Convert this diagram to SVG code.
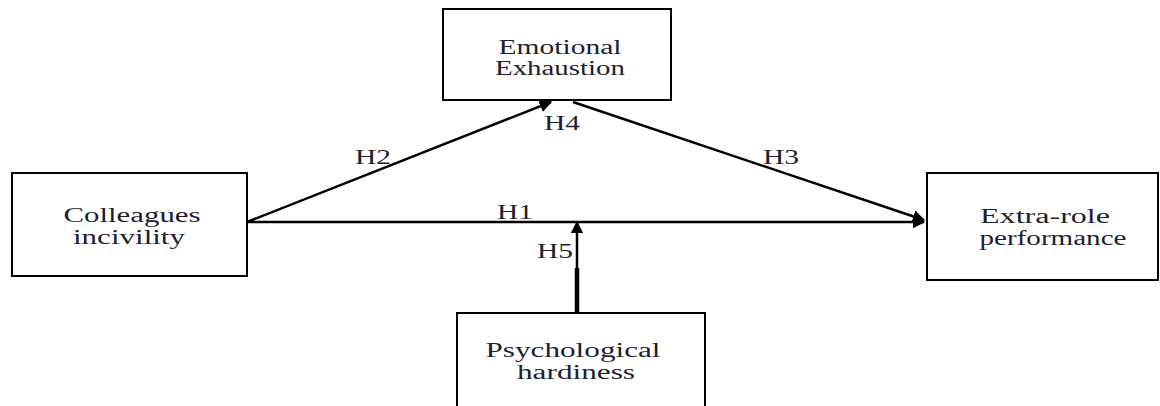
<svg xmlns="http://www.w3.org/2000/svg" width="1160" height="406" viewBox="0 0 1160 406">
<style>
.box{fill:#fff;stroke:#000;stroke-width:2}
.t{font-family:"Liberation Serif","Times New Roman",serif;font-size:20.5px;fill:#1e1e30;text-anchor:middle}
.c{stroke:#000;stroke-width:2.5;fill:none}
</style>
<defs>
<marker id="ah" viewBox="0 0 10 10" refX="9" refY="5" markerWidth="5" markerHeight="5" orient="auto" markerUnits="strokeWidth">
<path d="M0,0 L10,5 L0,10 z" fill="#000"/>
</marker>
</defs>
<rect width="1160" height="406" fill="#fff"/>
<g id="connectors">
<line class="c" x1="247" y1="222" x2="924" y2="222" marker-end="url(#ah)"/>
<line class="c" x1="247" y1="222" x2="551" y2="102" marker-end="url(#ah)"/>
<line class="c" x1="573" y1="102" x2="924" y2="220" marker-end="url(#ah)"/>
<line stroke="#000" stroke-width="4.5" x1="577" y1="313" x2="577" y2="268"/>
<line class="c" x1="577" y1="270" x2="577" y2="222" marker-end="url(#ah)"/>
<text class="t" x="515" y="219" textLength="36" lengthAdjust="spacingAndGlyphs">H1</text>
<text class="t" x="373" y="164" textLength="36" lengthAdjust="spacingAndGlyphs">H2</text>
<text class="t" x="781" y="164" textLength="36" lengthAdjust="spacingAndGlyphs">H3</text>
<text class="t" x="562" y="130" textLength="36" lengthAdjust="spacingAndGlyphs">H4</text>
<text class="t" x="555" y="258" textLength="36" lengthAdjust="spacingAndGlyphs">H5</text>
</g>
<g id="emotional">
<rect class="box" x="443" y="9" width="228" height="91"/>
<text class="t" x="560" y="54" textLength="123" lengthAdjust="spacingAndGlyphs">Emotional</text>
<text class="t" x="560" y="75" textLength="130" lengthAdjust="spacingAndGlyphs">Exhaustion</text>
</g>
<g id="colleagues">
<rect class="box" x="12" y="173" width="235" height="103"/>
<text class="t" x="132" y="222" textLength="137" lengthAdjust="spacingAndGlyphs">Colleagues</text>
<text class="t" x="129" y="244" textLength="112" lengthAdjust="spacingAndGlyphs">incivility</text>
</g>
<g id="extra">
<rect class="box" x="927" y="173" width="231" height="107"/>
<text class="t" x="1045" y="223" textLength="130" lengthAdjust="spacingAndGlyphs">Extra-role</text>
<text class="t" x="1053" y="245" textLength="147" lengthAdjust="spacingAndGlyphs">performance</text>
</g>
<g id="hardiness">
<rect class="box" x="457" y="313" width="248" height="100"/>
<text class="t" x="573" y="357" textLength="175" lengthAdjust="spacingAndGlyphs">Psychological</text>
<text class="t" x="576" y="379" textLength="118" lengthAdjust="spacingAndGlyphs">hardiness</text>
</g>
</svg>
